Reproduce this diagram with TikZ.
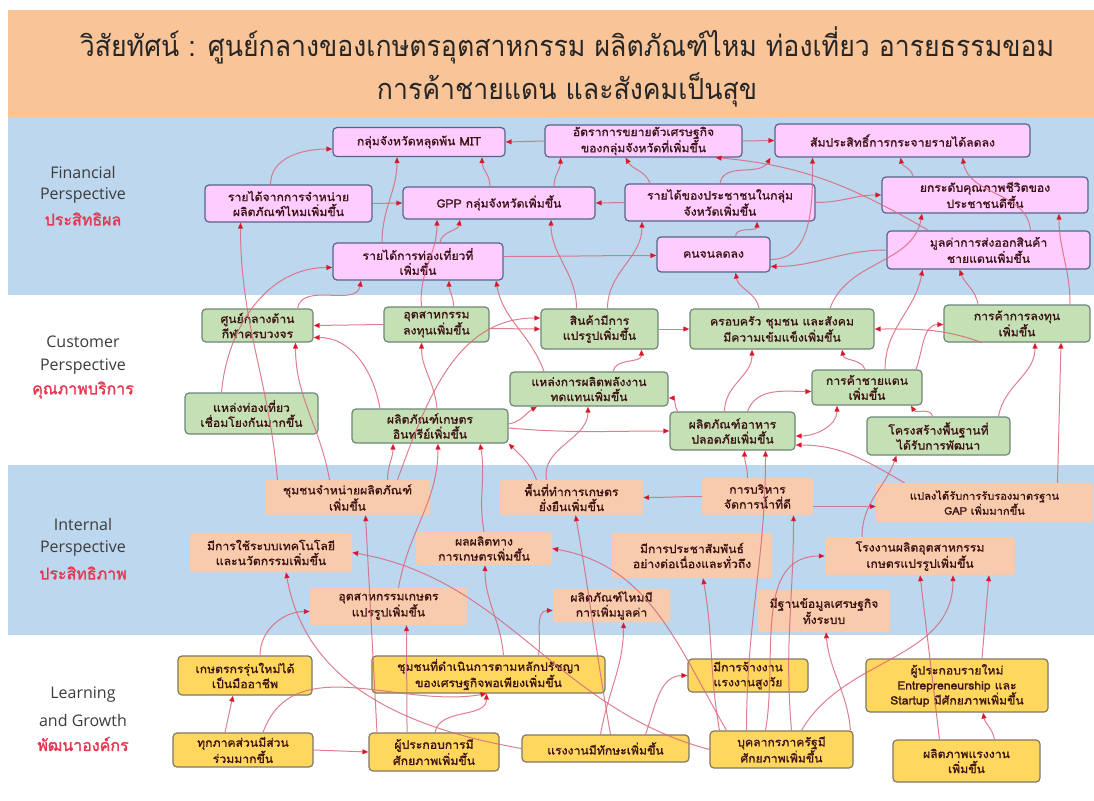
\documentclass[tikz,border=0pt]{standalone}
\usepackage{fontspec}
\setmainfont[Script=Thai]{Loma}
\newfontfamily\lblfont{Open Sans}
\newfontfamily\boxfont[Script=Thai,FakeStretch=1.06,FakeBold=1.2]{Loma}
\newfontfamily\titlefont[Script=Thai,FakeStretch=0.92]{Loma}
\newfontfamily\thlblfont[Script=Thai,FakeBold=1.5]{Loma}
\usetikzlibrary{arrows.meta}

\definecolor{titlebg}{RGB}{249,196,152}
\definecolor{bandblue}{RGB}{189,215,238}
\definecolor{finfill}{RGB}{255,204,255}
\definecolor{finedge}{RGB}{85,100,140}
\definecolor{cusfill}{RGB}{197,224,180}
\definecolor{cusedge}{RGB}{110,135,120}
\definecolor{intfill}{RGB}{248,203,173}
\definecolor{lrnfill}{RGB}{255,215,95}
\definecolor{lrnedge}{RGB}{125,120,100}
\definecolor{linkc}{RGB}{215,105,125}
\definecolor{tipc}{RGB}{220,20,40}
\definecolor{boxtext}{RGB}{60,20,20}
\definecolor{lblgrey}{RGB}{60,60,60}
\definecolor{lblred}{RGB}{230,55,80}

\tikzset{
  wh/.style 2 args={minimum width=#1pt, minimum height=#2pt},
  box/.style={rounded corners=4pt, align=center, inner sep=1pt, text=boxtext,
    font=\boxfont\fontsize{11.5}{15}\selectfont},
  fin/.style={box, draw=finedge, fill=finfill, line width=1.2pt},
  cus/.style={box, draw=cusedge, fill=cusfill, line width=1.2pt},
  int/.style={box, fill=intfill, rounded corners=2pt},
  lrn/.style={box, draw=lrnedge, fill=lrnfill, line width=1.2pt},
  persp/.style={font=\lblfont\fontsize{16}{18}\selectfont, text=lblgrey},
  perspth/.style={font=\thlblfont\fontsize{16}{18}\selectfont, text=lblred},
  link/.style={draw=linkc, line width=1pt, draw opacity=0.85,
    -{Triangle[length=6pt,width=5pt,color=tipc]}},
  both/.style={link, {Triangle[length=6pt,width=5pt,color=tipc]}-{Triangle[length=6pt,width=5pt,color=tipc]}},
}

\begin{document}
\begin{tikzpicture}[x=1pt, y=1pt]
	\useasboundingbox (0,0) rectangle (1094,-800);
	% bands
	\fill[white] (0,0) rectangle (1094,-800);
	\fill[titlebg] (8,-10) rectangle (1094,-117);
	\fill[bandblue] (8,-117) rectangle (1094,-295);
	\fill[bandblue] (8,-465) rectangle (1094,-635);
	\node[font=\titlefont\fontsize{29}{32}\selectfont, text=black!85] (title1) at (567,-45) {วิสัยทัศน์ : ศูนย์กลางของเกษตรอุตสาหกรรม ผลิตภัณฑ์ไหม ท่องเที่ยว อารยธรรมขอม};
	\node[font=\titlefont\fontsize{29}{32}\selectfont, text=black!85] (title2) at (567,-90) {การค้าชายแดน และสังคมเป็นสุข};

	% perspectives
	\node[persp] (p1a) at (83,-172) {Financial};
	\node[persp] (p1b) at (83,-196) {Perspective};
	\node[perspth] (p1c) at (83,-219) {ประสิทธิผล};
	\node[persp] (p2a) at (83,-342) {Customer};
	\node[persp] (p2b) at (83,-367) {Perspective};
	\node[perspth] (p2c) at (83,-390) {คุณภาพบริการ};
	\node[persp] (p3a) at (83,-524) {Internal};
	\node[persp] (p3b) at (83,-549) {Perspective};
	\node[perspth] (p3c) at (83,-573) {ประสิทธิภาพ};
	\node[persp] (p4a) at (83,-695) {Learning};
	\node[persp] (p4b) at (83,-720) {and Growth};
	\node[perspth] (p4c) at (83,-744) {พัฒนาองค์กร};

	% financial
	\node[fin, wh={172}{29}] (F1) at (419,-142) {กลุ่มจังหวัดหลุดพ้น MIT};
	\node[fin, wh={197}{32}] (F2) at (643.5,-141) {อัตราการขยายตัวเศรษฐกิจ\\ของกลุ่มจังหวัดที่เพิ่มขึ้น};
	\node[fin, wh={255}{33}] (F3) at (902.5,-140.5) {สัมประสิทธิ์การกระจายรายได้ลดลง};
	\node[fin, wh={167}{37}] (F4) at (288.5,-203.5) {รายได้จากการจำหน่าย\\ผลิตภัณฑ์ไหมเพิ่มขึ้น};
	\node[fin, wh={192}{32}] (F5) at (499,-203) {GPP กลุ่มจังหวัดเพิ่มขึ้น};
	\node[fin, wh={190}{37}] (F6) at (720,-202.5) {รายได้ของประชาชนในกลุ่ม\\จังหวัดเพิ่มขึ้น};
	\node[fin, wh={206}{36}] (F7) at (985,-195) {ยกระดับคุณภาพชีวิตของ\\ประชาชนดีขึ้น};
	\node[fin, wh={170}{37}] (F8) at (418,-261.5) {รายได้การท่องเที่ยวที่\\เพิ่มขึ้น};
	\node[fin, wh={113}{35}] (F9) at (713.5,-254.5) {คนจนลดลง};
	\node[fin, wh={203}{38}] (F10) at (988.5,-250) {มูลค่าการส่งออกสินค้า\\ชายแดนเพิ่มขึ้น};

	% customer
	\node[cus, wh={111}{33}] (C1) at (257.5,-325.5) {ศูนย์กลางด้าน\\กีฬาครบวงจร};
	\node[cus, wh={105}{35}] (C2) at (436.5,-324.5) {อุตสาหกรรม\\ลงทุนเพิ่มขึ้น};
	\node[cus, wh={117}{40}] (C3) at (599.5,-329) {สินค้ามีการ\\แปรรูปเพิ่มขึ้น};
	\node[cus, wh={184}{40}] (C4) at (782,-329) {ครอบครัว ชุมชน และสังคม\\มีความเข้มแข็งเพิ่มขึ้น};
	\node[cus, wh={146}{37}] (C5) at (1017,-323.5) {การค้าการลงทุน\\เพิ่มขึ้น};
	\node[cus, wh={158}{34}] (C6) at (589,-389) {แหล่งการผลิตพลังงาน\\ทดแทนเพิ่มขึ้น};
	\node[cus, wh={110}{35}] (C7) at (867,-387.5) {การค้าชายแดน\\เพิ่มขึ้น};
	\node[cus, wh={133}{41}] (C8) at (251.5,-413.5) {แหล่งท่องเที่ยว\\เชื่อมโยงกันมากขึ้น};
	\node[cus, wh={156}{34}] (C9) at (430,-426) {ผลิตภัณฑ์เกษตร\\อินทรีย์เพิ่มขึ้น};
	\node[cus, wh={125}{38}] (C10) at (732.5,-431) {ผลิตภัณฑ์อาหาร\\ปลอดภัยเพิ่มขึ้น};
	\node[cus, wh={143}{38}] (C11) at (938.5,-436) {โครงสร้างพื้นฐานที่\\ได้รับการพัฒนา};

	% internal
	\node[int, wh={165}{35}] (I1) at (347.5,-497.5) {ชุมชนจำหน่ายผลิตภัณฑ์\\เพิ่มขึ้น};
	\node[int, wh={143}{35}] (I2) at (571.5,-497.5) {พื้นที่ทำการเกษตร\\ยั่งยืนเพิ่มขึ้น};
	\node[int, wh={111}{37}] (I3) at (757.5,-496.5) {การบริหาร\\จัดการน้ำที่ดี};
	\node[int, wh={217}{39}, font=\boxfont\fontsize{10.5}{15}\selectfont] (I4) at (984.5,-502.5) {แปลงได้รับการรับรองมาตรฐาน\\GAP เพิ่มมากขึ้น};
	\node[int, wh={162}{39}] (I5) at (271,-552.5) {มีการใช้ระบบเทคโนโลยี\\และนวัตกรรมเพิ่มขึ้น};
	\node[int, wh={136}{33}] (I6) at (484,-548.5) {ผลผลิตทาง\\การเกษตรเพิ่มขึ้น};
	\node[int, wh={160}{45}] (I7) at (692,-555.5) {มีการประชาสัมพันธ์\\อย่างต่อเนื่องและทั่วถึง};
	\node[int, wh={190}{38}] (I8) at (920,-556) {โรงงานผลิตอุตสาหกรรม\\เกษตรแปรรูปเพิ่มขึ้น};
	\node[int, wh={157}{37}] (I9) at (388.5,-606.5) {อุตสาหกรรมเกษตร\\แปรรูปเพิ่มขึ้น};
	\node[int, wh={117}{33}] (I10) at (611.5,-605.5) {ผลิตภัณฑ์ไหมมี\\การเพิ่มมูลค่า};
	\node[int, wh={132}{42}] (I11) at (824,-611) {มีฐานข้อมูลเศรษฐกิจ\\ทั้งระบบ};

	% learning
	\node[lrn, wh={134}{39}] (L1) at (245,-675.5) {เกษตรกรรุ่นใหม่ได้\\เป็นมืออาชีพ};
	\node[lrn, wh={233}{37}] (L2) at (488.5,-674.5) {ชุมชนที่ดำเนินการตามหลักปรัชญา\\ของเศรษฐกิจพอเพียงเพิ่มขึ้น};
	\node[lrn, wh={120}{33}] (L3) at (748,-675.5) {มีการจ้างงาน\\แรงงานสูงวัย};
	\node[lrn, wh={182}{53}] (L4) at (957,-685.5) {ผู้ประกอบรายใหม่\\Entrepreneurship และ\\Startup มีศักยภาพเพิ่มขึ้น};
	\node[lrn, wh={140}{34}] (L5) at (243,-750) {ทุกภาคส่วนมีส่วน\\ร่วมมากขึ้น};
	\node[lrn, wh={130}{38}] (L6) at (434,-752) {ผู้ประกอบการมี\\ศักยภาพเพิ่มขึ้น};
	\node[lrn, wh={167}{27}] (L7) at (605.5,-748.5) {แรงงานมีทักษะเพิ่มขึ้น};
	\node[lrn, wh={143}{37}] (L8) at (781.5,-749.5) {บุคลากรภาครัฐมี\\ศักยภาพเพิ่มขึ้น};
	\node[lrn, wh={147}{42}] (L9) at (966.5,-761) {ผลิตภาพแรงงาน\\เพิ่มขึ้น};

	% financial links
	\draw[link] (F2.west) -- (F1.east);
	\draw[link] (F2.east) to[out=0,in=180] (F3.west);
	\draw[link] ([xshift=-18]F4.north) to[out=90,in=180] ([yshift=-7]F1.west);
	\draw[link] (F4.east) -- (F5.west);
	\draw[link] (F6.west) -- (F5.east);
	\draw[link] ([xshift=55]F5.north) to[out=90,in=-90] ([xshift=-83]F2.south);
	\draw[link] ([xshift=-9]F5.north) to[out=90,in=-90] ([xshift=63]F1.south);
	\draw[link] ([xshift=-70]F6.north) to[out=110,in=-60] ([xshift=-18]F2.south);
	\draw[link] (F6.north) to[out=80,in=-120] ([xshift=-132]F3.south);
	\draw[link] (F6.east) to[out=0,in=180] (F7.west);
	\draw[link] ([xshift=-72]F7.north) to[out=100,in=-80] ([xshift=-2]F3.south);
	\draw[link] ([xshift=42]F10.north) to[out=95,in=-80] ([xshift=60]F3.south);
	\draw[link] ([xshift=-60]F10.north) to[out=150,in=-5] ([xshift=72]F2.south);
	\draw[link] ([xshift=22]F9.north) to[out=90,in=-90] ([xshift=37]F6.south);
	\draw[link] ([yshift=-5]F9.east) to[out=0,in=-90] ([xshift=-90]F3.south);
	\draw[link] (F10.west) to[out=180,in=0] ([yshift=-12]F9.east);
	\draw[link] ([yshift=5]F8.east) to[out=0,in=180] ([yshift=-1]F9.west);
	\draw[link] ([xshift=-36]F8.north) to[out=90,in=-90] ([xshift=-22]F1.south);
	\draw[link] ([xshift=22]F8.north) to[out=80,in=-100] ([xshift=-39]F5.south);

	% customer to financial
	\draw[link] ([xshift=-23]C4.north) to[out=100,in=-80] ([xshift=22]F9.south);
	\draw[link] ([xshift=-30]C8.north) to[out=85,in=180] ([yshift=-6]F8.west);
	\draw[link] ([xshift=40]C1.north) to[out=80,in=-100] ([xshift=-57]F8.south);
	\draw[link] ([xshift=-15]C2.north) to[out=95,in=-90] ([xshift=-62]F5.south);
	\draw[link] ([xshift=17]C2.north) to[out=90,in=-90] ([xshift=31]F8.south);
	\draw[link] ([xshift=-45]C6.north) to[out=110,in=-80] ([xshift=78]F8.south);
	\draw[link] ([xshift=-23]C3.north) to[out=90,in=-90] ([xshift=52]F5.south);
	\draw[link] ([xshift=8]C3.north) to[out=90,in=-90] ([xshift=-78]F6.south);
	\draw[link] ([xshift=48]C4.north) to[out=70,in=-100] ([xshift=-63]F7.south);
	\draw[link] ([xshift=18]C7.north) to[out=90,in=-100] ([xshift=-66]F10.south);
	\draw[link] ([xshift=-39]C5.north) to[out=100,in=-70] ([xshift=-29]F10.south);
	\draw[link] ([xshift=53]C5.north) to[out=90,in=-90] ([xshift=74]F7.south);
	\draw[link] ([xshift=-70]I1.north) to[out=95,in=-90] ([xshift=-48]F4.south);

	% customer links
	\draw[link] (C2.west) -- (C1.east);
	\draw[link] ([xshift=-50]C9.north) to[out=100,in=0] ([yshift=-12]C1.east);
	\draw[link] ([xshift=7]C9.north) to[out=95,in=-90] ([xshift=-15]C2.south);
	\draw[link] ([yshift=-4]C2.east) to[out=0,in=180] (C3.west);
	\draw[link] ([xshift=50]I1.north) to[out=70,in=180] ([yshift=11]C3.west);
	\draw[link] (C3.east) -- (C4.west);
	\draw[link] ([xshift=24]C6.north) to[out=80,in=-90] ([xshift=42]C3.south);
	\draw[link] ([yshift=2]C9.east) to[out=10,in=-150] ([xshift=-52]C6.south);
	\draw[link] ([yshift=-2]C9.east) to[out=-5,in=180] (C10.west);
	\draw[link] ([xshift=-55]C10.north) to[out=120,in=0] ([yshift=-9]C6.east);
	\draw[link] ([xshift=-8]C10.north) to[out=90,in=-90] ([xshift=-30]C4.south);
	\draw[link] ([xshift=15]C10.north) to[out=70,in=180] ([yshift=-4]C7.west);
	\draw[both] ([yshift=-5]C10.east) to[out=0,in=-90] ([xshift=-30]C7.south);
	\draw[link] ([xshift=-2]C7.north) to[out=110,in=-80] ([xshift=60]C4.south);
	\draw[link] ([xshift=49]C7.north) to[out=70,in=180] ([yshift=-1]C5.west);
	\draw[link] ([xshift=-35]C5.south) to[out=160,in=0] (C4.east);
	\draw[link] ([xshift=-6]C11.north) to[out=100,in=-60] ([xshift=44]C7.south);
	\draw[link] ([xshift=60]C11.north) to[out=80,in=-90] ([xshift=18]C5.south);

	% internal to customer
	\draw[link] ([xshift=73]I4.north) -- ([xshift=44]C5.south);
	\draw[link] ([xshift=-18]I1.north) to[out=100,in=-90] ([xshift=38]C1.south);
	\draw[link] ([xshift=40]I1.north) to[out=90,in=-90] ([xshift=-37]C9.south);
	\draw[link] ([xshift=-25]I2.north) to[out=100,in=-90] ([xshift=-1]C6.south);
	\draw[link] ([xshift=-35]I2.north) to[out=110,in=-45] (C9.south east);
	\draw[link] ([xshift=-10]I3.north) to[out=90,in=-90] ([xshift=12]C10.south);
	\draw[link] ([xshift=-80]I4.north) to[out=150,in=0] ([yshift=-14]C10.east);
	\draw[link] ([xshift=-58]I8.north) to[out=90,in=-110] ([xshift=-42]C11.south);
	\draw[link] (I6.north) to[out=100,in=-80] ([xshift=50]C9.south);
	\draw[link] ([xshift=10]I9.north) to[out=80,in=-90] ([xshift=8]C9.south);

	% internal links
	\draw[link] (I3.west) to[out=180,in=0] (I2.east);
	\draw[link] ([yshift=-10]I3.east) to[out=0,in=180] ([yshift=-4]I4.west);

	% learning to internal
	\draw[link] ([xshift=10]L8.north) to[out=95,in=-90] ([xshift=36]I3.south);
	\draw[link] ([xshift=-35]L8.north) to[out=90,in=-90] ([xshift=33]C10.south);
	\draw[link] ([xshift=5]L7.north) to[out=100,in=-80] ([xshift=4]I2.south);
	\draw[link] ([xshift=-57]L6.north) -- ([xshift=18]I1.south);
	\draw[link] (L7.west) to[out=170,in=-80] ([xshift=15]I5.south);
	\draw[link] (L8.west) to[out=165,in=-10] (I5.east);
	\draw[link] ([xshift=-55]L8.north) to[out=120,in=-10] (I6.east);
	\draw[link] ([xshift=15]L2.north) to[out=95,in=-90] ([xshift=1]I6.south);
	\draw[link] ([xshift=15]L1.north) to[out=90,in=180] ([yshift=-5]I9.west);
	\draw[link] ([xshift=-27]L6.north) to[out=90,in=-90] ([xshift=18]I9.south);
	\draw[link] ([xshift=50]L2.north) to[out=80,in=180] ([yshift=-5]I10.west);
	\draw[link] ([xshift=-5]L7.north) to[out=80,in=-90] ([xshift=12]I10.south);
	\draw[link] ([xshift=-62]L8.north) to[out=100,in=-80] ([xshift=11]I7.south);
	\draw[link] ([xshift=-16]L8.north) to[out=80,in=180] (I8.west);
	\draw[link] ([xshift=-27]L9.north) -- (I8.south);
	\draw[link] ([xshift=20]L8.north) to[out=60,in=-90] ([xshift=33]I8.south);
	\draw[link] ([xshift=25]L4.north) -- ([xshift=69]I8.south);
	\draw[link] ([xshift=69]L8.north) to[out=95,in=-85] ([xshift=2]I11.south);

	% learning links
	\draw[link] ([xshift=-18]L5.north) -- ([xshift=-12]L1.south);
	\draw[link] ([xshift=20]L5.north) to[out=70,in=190] ([xshift=-2]L2.south);
	\draw[link] ([xshift=1]L6.north) to[out=80,in=-90] ([xshift=-2]L2.south);
	\draw[link] (L5.east) -- (L6.west);
	\draw[link] ([xshift=40]L7.north) to[out=70,in=180] (L3.west);
	\draw[link] ([xshift=28]L9.north) to[out=100,in=-80] ([xshift=26]L4.south);
\end{tikzpicture}
\end{document}
